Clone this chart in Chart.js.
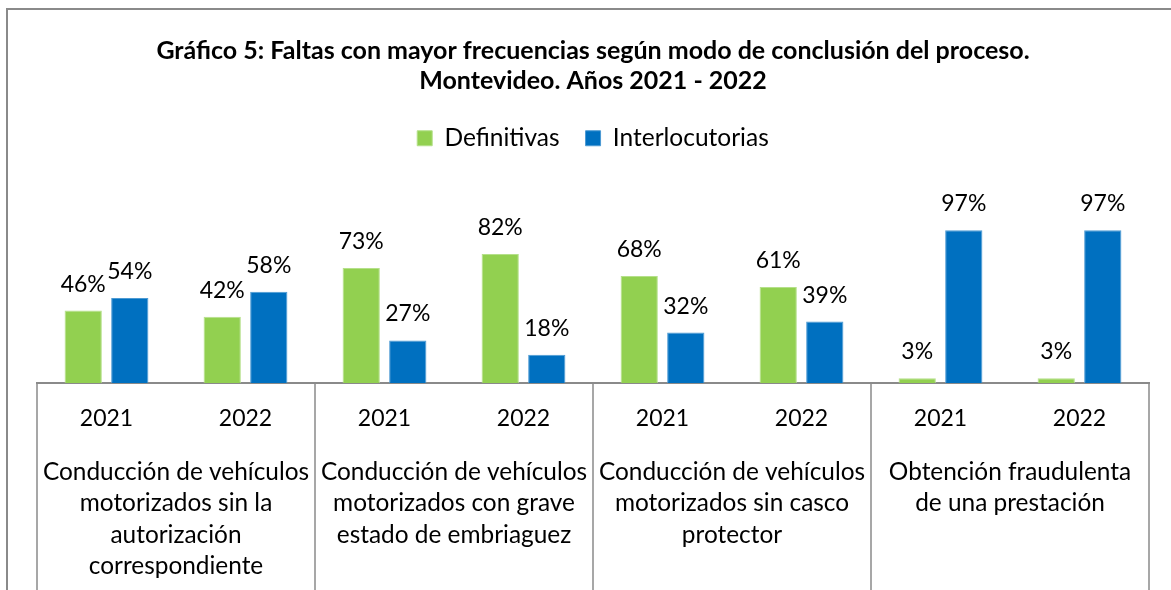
<!DOCTYPE html>
<html>
<head>
<meta charset="utf-8">
<script src="https://cdn.jsdelivr.net/npm/chart.js@4"></script>
<style>
  html, body { margin: 0; padding: 0; background: #fff; }
  #wrap { width: 1171px; height: 590px; }
</style>
</head>
<body>
<div id="wrap"><canvas id="grafico"></canvas></div>
<script>
// datos del gráfico
const anios = ['2021', '2022', '2021', '2022', '2021', '2022', '2021', '2022'];
const definitivas = [46, 42, 73, 82, 68, 61, 3, 3];
const interlocutorias = [54, 58, 27, 18, 32, 39, 97, 97];
const faltas = [
  ['Conducción de vehículos', 'motorizados sin la', 'autorización', 'correspondiente'],
  ['Conducción de vehículos', 'motorizados con grave', 'estado de embriaguez'],
  ['Conducción de vehículos', 'motorizados sin casco', 'protector'],
  ['Obtención fraudulenta', 'de una prestación'],
];
const titulo = [
  'Gráfico 5: Faltas con mayor frecuencias según modo de conclusión del proceso.',
  'Montevideo. Años 2021 - 2022',
];

const FUENTE = 'Lato, "Open Sans", sans-serif';
const GRIS = '#8a8a8a';

// etiquetas % encima de cada barra
const etiquetasValor = {
  id: 'etiquetasValor',
  afterDatasetsDraw(chart) {
    const ctx = chart.ctx;
    ctx.save();
    ctx.font = '23px ' + FUENTE;
    ctx.fillStyle = '#000';
    ctx.textAlign = 'center';
    ctx.textBaseline = 'alphabetic';
    chart.data.datasets.forEach((ds, i) => {
      const meta = chart.getDatasetMeta(i);
      meta.data.forEach((bar, j) => {
        ctx.fillText(ds.data[j] + '%', bar.x, bar.y - 19);
      });
    });
    ctx.restore();
  },
};

// separadores de grupo, nombres de faltas y borde exterior
const ejeGrupos = {
  id: 'ejeGrupos',
  afterDraw(chart) {
    const ctx = chart.ctx;
    const x = chart.scales.x;
    const area = chart.chartArea;
    const medio = (x.getPixelForValue(1) - x.getPixelForValue(0)) / 2;

    ctx.save();
    ctx.strokeStyle = GRIS;
    ctx.lineWidth = 1.5;
    for (let g = 0; g <= faltas.length; g++) {
      const px = g < faltas.length
        ? x.getPixelForValue(g * 2) - medio
        : x.getPixelForValue(g * 2 - 1) + medio;
      ctx.beginPath();
      ctx.moveTo(px, area.bottom);
      ctx.lineTo(px, chart.height);
      ctx.stroke();
    }

    ctx.font = '24.4px ' + FUENTE;
    ctx.fillStyle = '#000';
    ctx.textAlign = 'center';
    ctx.textBaseline = 'middle';
    faltas.forEach((lineas, g) => {
      const cx = (x.getPixelForValue(g * 2) + x.getPixelForValue(g * 2 + 1)) / 2;
      lineas.forEach((txt, k) => {
        ctx.fillText(txt, cx, 472 + k * 31.5);
      });
    });

    ctx.strokeStyle = GRIS;
    ctx.lineWidth = 2;
    ctx.strokeRect(7, 9, chart.width + 10, chart.height + 10);
    ctx.restore();
  },
};

new Chart(document.getElementById('grafico'), {
  type: 'bar',
  data: {
    labels: anios,
    datasets: [
      {
        label: 'Definitivas',
        data: definitivas,
        backgroundColor: '#92d050',
        borderColor: '#b5e08a',
        borderWidth: 1,
      },
      {
        label: 'Interlocutorias',
        data: interlocutorias,
        backgroundColor: '#0070c0',
        borderColor: '#4c9ad3',
        borderWidth: 1,
      },
    ],
  },
  options: {
    responsive: true,
    maintainAspectRatio: false,
    animation: false,
    devicePixelRatio: 1,
    layout: {
      padding: { top: 0, left: 37, right: 22, bottom: 0 },
    },
    datasets: {
      bar: {
        categoryPercentage: 0.67,
        barPercentage: 0.8,
      },
    },
    plugins: {
      title: {
        display: true,
        text: titulo,
        color: '#000',
        font: { family: FUENTE, size: 25, weight: 'bold', lineHeight: 1.2 },
        padding: { top: 36, bottom: 4 },
      },
      legend: {
        position: 'top',
        labels: {
          color: '#000',
          boxWidth: 15,
          boxHeight: 15,
          padding: 26,
          font: { family: FUENTE, size: 24.5 },
        },
      },
      tooltip: { enabled: false },
    },
    scales: {
      x: {
        grid: { display: false, drawTicks: false },
        border: { display: true, color: GRIS, width: 2 },
        ticks: {
          color: '#000',
          padding: 22,
          font: { family: FUENTE, size: 23 },
          maxRotation: 0,
          autoSkip: false,
        },
        afterFit(scale) {
          scale.height = 207;
        },
      },
      y: {
        display: false,
        min: 0,
        max: 141.3,
      },
    },
  },
  plugins: [etiquetasValor, ejeGrupos],
});
</script>
</body>
</html>
